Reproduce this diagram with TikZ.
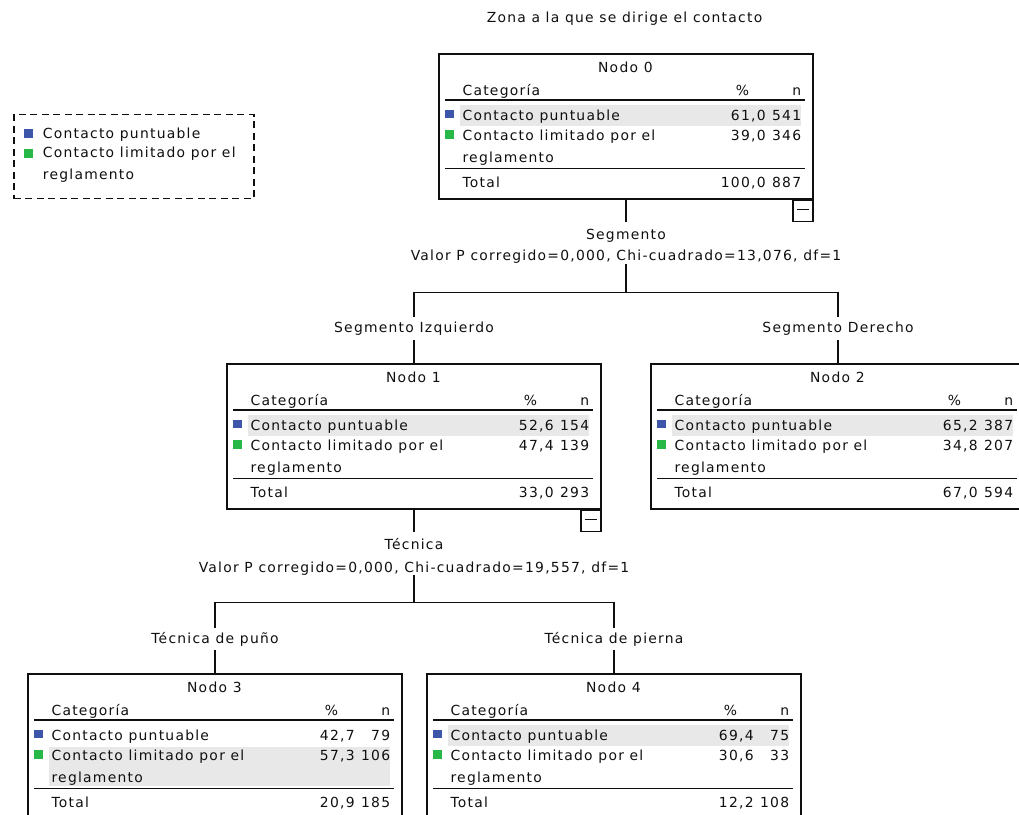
\documentclass[tikz,border=0pt]{standalone}
\usepackage{fontspec}
\setmainfont{DejaVu Sans}[LetterSpace=9]
\usetikzlibrary{positioning}

\definecolor{azulcat}{RGB}{62,86,170}
\definecolor{verdecat}{RGB}{40,184,72}
\definecolor{bandagris}{RGB}{232,232,232}
\definecolor{tinta}{RGB}{15,15,15}

\tikzset{
  txt/.style={inner sep=0pt, text height=9.5pt, text depth=0.5pt, text=tinta,
    font=\fontsize{13.9}{16}\selectfont},
  etiq/.style={txt, inner ysep=7.5pt},
  pval/.style={txt, inner ysep=2.5pt},
  rama/.style={txt, inner ysep=6pt},
  nodobox/.style={draw=tinta, line width=1.3pt, minimum width=374pt,
    minimum height=145pt, inner sep=0pt, anchor=north},
  menos/.style={draw=tinta, line width=1.3pt, minimum width=20pt,
    minimum height=21pt, inner sep=0pt, anchor=north east,
    path picture={\draw[tinta, line width=1.3pt]
      ([xshift=-6pt,yshift=1pt]path picture bounding box.center) --
      ([xshift=6pt,yshift=1pt]path picture bounding box.center);}},
  regla/.style={tinta, line width=1.5pt},
  conector/.style={tinta, line width=1.3pt},
}

% contenido de la tabla de un nodo
\newcommand{\tablanodo}[9]{%
  \begin{scope}[shift={(#1.north west)}]
    \ifnum#9=1
      \fill[bandagris] (22,52) rectangle (363,73);
    \else
      \fill[bandagris] (22,74) rectangle (363,113);
    \fi
    \node[txt] (#1-tit) at (187,14.5) {#2};
    \node[txt,anchor=west] (#1-cat) at (24,37.5) {Categoría};
    \node[txt,anchor=east] (#1-pc) at (311,37.5) {\%};
    \node[txt,anchor=east] (#1-n) at (363,37.5) {n};
    \draw[regla] (7,46.7) -- (367,46.7);
    \fill[azulcat] (7,56.7) rectangle (16,64.7);
    \node[txt,anchor=west] (#1-c1) at (24,62.7) {Contacto puntuable};
    \node[txt,anchor=east] (#1-p1) at (327.5,62.7) {#3};
    \node[txt,anchor=east] (#1-n1) at (363,62.7) {#4};
    \fill[verdecat] (7,76.7) rectangle (16,85.7);
    \node[txt,anchor=west] (#1-c2) at (24,82.4) {Contacto limitado por el};
    \node[txt,anchor=west] (#1-c3) at (24,105) {reglamento};
    \node[txt,anchor=east] (#1-p2) at (327.5,82.4) {#5};
    \node[txt,anchor=east] (#1-n2) at (363,82.4) {#6};
    \draw[regla] (7,115) -- (367,115);
    \node[txt,anchor=west] (#1-tot) at (24,129.4) {Total};
    \node[txt,anchor=east] (#1-pt) at (327.5,129.4) {#7};
    \node[txt,anchor=east] (#1-nt) at (363,129.4) {#8};
  \end{scope}}

\begin{document}
\begin{tikzpicture}[x=1pt, y=-1pt]
    \useasboundingbox (0,0) rectangle (1019,814);
    \clip (0,0) rectangle (1019,814);

    \node[txt] (titulo) at (624.5,18) {Zona a la que se dirige el contacto};

    % leyenda
    \node[draw=tinta, dashed, dash pattern=on 7pt off 4.5pt, line width=1.3pt,
      minimum width=240pt, minimum height=84pt, anchor=north west] (ley) at (13.3,114) {};
    \fill[azulcat] (24,129.3) rectangle (33,138.3);
    \fill[verdecat] (24,148.5) rectangle (33,157.5);
    \node[txt,anchor=west] (ley1) at (42.7,134.3) {Contacto puntuable};
    \node[txt,anchor=west] (ley2) at (42.7,153.3) {Contacto limitado por el};
    \node[txt,anchor=west] (ley3) at (42.7,174.5) {reglamento};

    % nodos del arbol
    \node[nodobox] (n0) at (626,53.3) {};
    \node[nodobox] (n1) at (414,363.3) {};
    \node[nodobox] (n2) at (838,363.3) {};
    \node[nodobox] (n3) at (215,673.3) {};
    \node[nodobox] (n4) at (614,673.3) {};
    \tablanodo{n0}{Nodo 0}{61,0}{541}{39,0}{346}{100,0}{887}{1}
    \tablanodo{n1}{Nodo 1}{52,6}{154}{47,4}{139}{33,0}{293}{1}
    \tablanodo{n2}{Nodo 2}{65,2}{387}{34,8}{207}{67,0}{594}{1}
    \tablanodo{n3}{Nodo 3}{42,7}{79}{57,3}{106}{20,9}{185}{2}
    \tablanodo{n4}{Nodo 4}{69,4}{75}{30,6}{33}{12,2}{108}{1}
    \node[menos] (n0-menos) at (n0.south east) {};
    \node[menos] (n1-menos) at (n1.south east) {};

    % primera division
    \node[etiq] (div0) at (626,235) {Segmento};
    \node[pval] (pv0) at (626,256) {Valor P corregido=0,000, Chi-cuadrado=13,076, df=1};
    \coordinate (bar0) at (626,292.3);
    \node[rama] (r1) at (414,328.3) {Segmento Izquierdo};
    \node[rama] (r2) at (838,328.3) {Segmento Derecho};
    \draw[conector] (n0.south) -- (div0);
    \draw[conector] (pv0) -- (bar0);
    \draw[conector] (r1) |- (bar0) -| (r2);
    \draw[conector] (r1) -- (n1);
    \draw[conector] (r2) -- (n2);

    % segunda division
    \node[etiq] (div1) at (414,545) {Técnica};
    \node[pval] (pv1) at (414,567.7) {Valor P corregido=0,000, Chi-cuadrado=19,557, df=1};
    \coordinate (bar1) at (414,602.3);
    \node[rama] (r3) at (215,639) {Técnica de puño};
    \node[rama] (r4) at (614,639) {Técnica de pierna};
    \draw[conector] (n1.south) -- (div1);
    \draw[conector] (pv1) -- (bar1);
    \draw[conector] (r3) |- (bar1) -| (r4);
    \draw[conector] (r3) -- (n3);
    \draw[conector] (r4) -- (n4);

\end{tikzpicture}
\end{document}
